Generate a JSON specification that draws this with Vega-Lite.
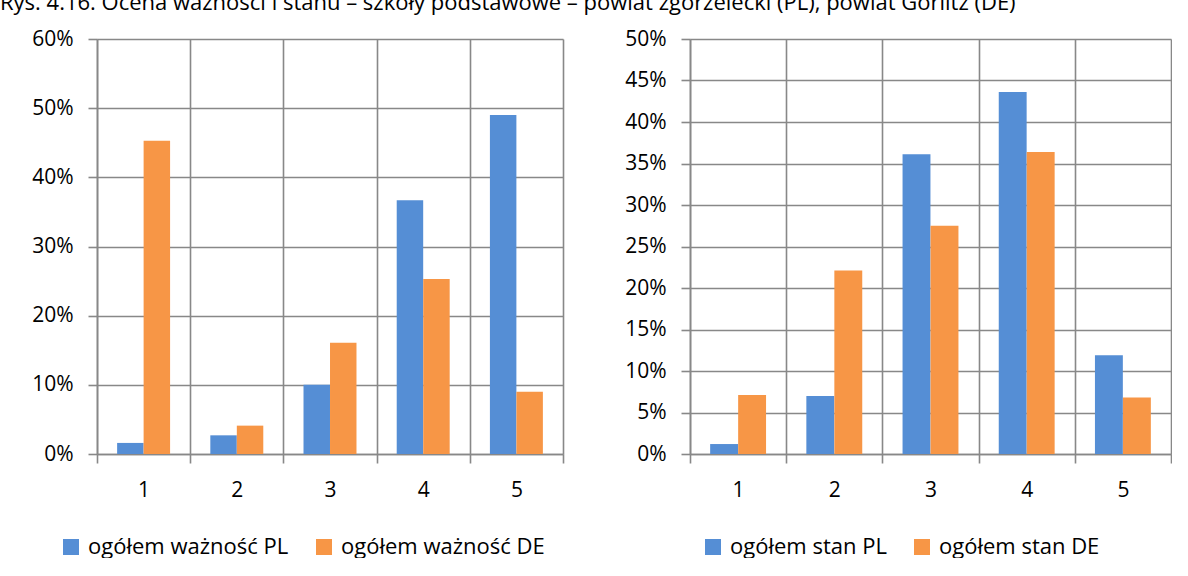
{
  "$schema": "https://vega.github.io/schema/vega-lite/v6.json",
  "background": "white",
  "padding": {"left": 0, "top": -8, "right": 0, "bottom": 0},
  "title": {"text": "Rys. 4.16. Ocena ważności i stanu – szkoły podstawowe – powiat zgorzelecki (PL), powiat Görlitz (DE)", "anchor": "start", "frame": "bounds", "fontSize": 22, "font": "Open Sans", "fontWeight": "normal", "color": "black", "offset": 13},
  "datasets": {
    "waznosc": [
      {"ocena": "1", "seria": "ogółem ważność PL", "udzial": 0.016},
      {"ocena": "1", "seria": "ogółem ważność DE", "udzial": 0.453},
      {"ocena": "2", "seria": "ogółem ważność PL", "udzial": 0.027},
      {"ocena": "2", "seria": "ogółem ważność DE", "udzial": 0.041},
      {"ocena": "3", "seria": "ogółem ważność PL", "udzial": 0.100},
      {"ocena": "3", "seria": "ogółem ważność DE", "udzial": 0.161},
      {"ocena": "4", "seria": "ogółem ważność PL", "udzial": 0.367},
      {"ocena": "4", "seria": "ogółem ważność DE", "udzial": 0.253},
      {"ocena": "5", "seria": "ogółem ważność PL", "udzial": 0.490},
      {"ocena": "5", "seria": "ogółem ważność DE", "udzial": 0.090}
    ],
    "stan": [
      {"ocena": "1", "seria": "ogółem stan PL", "udzial": 0.012},
      {"ocena": "1", "seria": "ogółem stan DE", "udzial": 0.071},
      {"ocena": "2", "seria": "ogółem stan PL", "udzial": 0.070},
      {"ocena": "2", "seria": "ogółem stan DE", "udzial": 0.221},
      {"ocena": "3", "seria": "ogółem stan PL", "udzial": 0.361},
      {"ocena": "3", "seria": "ogółem stan DE", "udzial": 0.275},
      {"ocena": "4", "seria": "ogółem stan PL", "udzial": 0.436},
      {"ocena": "4", "seria": "ogółem stan DE", "udzial": 0.364},
      {"ocena": "5", "seria": "ogółem stan PL", "udzial": 0.119},
      {"ocena": "5", "seria": "ogółem stan DE", "udzial": 0.068}
    ]
  },
  "config": {
    "font": "Open Sans",
    "view": {"stroke": null},
    "axis": {
      "labelFont": "Open Sans", "labelFontSize": 21, "labelColor": "black",
      "gridColor": "#888888", "gridWidth": 1.6, "gridOpacity": 1,
      "domainColor": "#888888", "domainWidth": 1.6,
      "tickColor": "#888888", "tickWidth": 1.6, "tickSize": 9,
      "title": null
    },
    "legend": {
      "orient": "none", "direction": "horizontal", "title": null,
      "labelFont": "Open Sans", "labelFontSize": 22, "labelColor": "black",
      "symbolType": "square", "symbolSize": 256, "symbolStrokeWidth": 0, "symbolOpacity": 1,
      "columnPadding": 24, "labelOffset": 6, "labelLimit": 400, "padding": 0
    },
    "concat": {"spacing": 56}
  },
  "hconcat": [
    {
      "width": 466, "height": 415,
      "data": {"name": "waznosc"},
      "encoding": {
        "x": {"field": "ocena", "type": "nominal", "sort": ["1","2","3","4","5"],
              "scale": {"paddingInner": 0, "paddingOuter": 0},
              "axis": {"labelAngle": 0, "grid": true, "tickBand": "extent", "labelPadding": 16}},
        "y": {"field": "udzial", "type": "quantitative",
              "scale": {"domain": [0, 0.6], "nice": false},
              "axis": {"values": [0, 0.1, 0.2, 0.3, 0.4, 0.5, 0.6], "format": ".0%", "labelPadding": 15, "minExtent": 97}},
        "color": {"field": "seria", "type": "nominal",
                  "scale": {"domain": ["ogółem ważność PL", "ogółem ważność DE"], "range": ["#558ED5", "#F79646"]},
                  "legend": {"legendX": -37, "legendY": 497}}
      },
      "layer": [
        {
          "transform": [{"filter": "datum.seria == 'ogółem ważność PL'"}],
          "mark": {"type": "bar", "width": {"band": 0.284}, "xOffset": -13.25}
        },
        {
          "transform": [{"filter": "datum.seria == 'ogółem ważność DE'"}],
          "mark": {"type": "bar", "width": {"band": 0.284}, "xOffset": 13.25}
        }
      ]
    },
    {
      "width": 481, "height": 415,
      "data": {"name": "stan"},
      "encoding": {
        "x": {"field": "ocena", "type": "nominal", "sort": ["1","2","3","4","5"],
              "scale": {"paddingInner": 0, "paddingOuter": 0},
              "axis": {"labelAngle": 0, "grid": true, "tickBand": "extent", "labelPadding": 16}},
        "y": {"field": "udzial", "type": "quantitative",
              "scale": {"domain": [0, 0.5], "nice": false},
              "axis": {"values": [0, 0.05, 0.1, 0.15, 0.2, 0.25, 0.3, 0.35, 0.4, 0.45, 0.5], "format": ".0%", "labelPadding": 15, "minExtent": 70}},
        "color": {"field": "seria", "type": "nominal",
                  "scale": {"domain": ["ogółem stan PL", "ogółem stan DE"], "range": ["#558ED5", "#F79646"]},
                  "legend": {"legendX": 12, "legendY": 497}}
      },
      "layer": [
        {
          "transform": [{"filter": "datum.seria == 'ogółem stan PL'"}],
          "mark": {"type": "bar", "width": {"band": 0.29}, "xOffset": -14}
        },
        {
          "transform": [{"filter": "datum.seria == 'ogółem stan DE'"}],
          "mark": {"type": "bar", "width": {"band": 0.29}, "xOffset": 14}
        }
      ]
    }
  ],
  "resolve": {"scale": {"color": "independent"}}
}
